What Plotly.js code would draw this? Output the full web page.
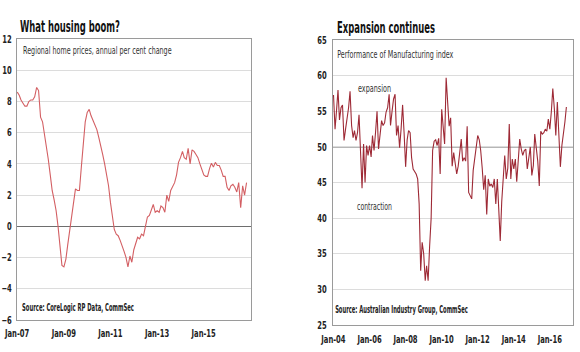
<!DOCTYPE html>
<html>
<head>
<meta charset="utf-8">
<script src="https://cdn.plot.ly/plotly-3.0.1.min.js"></script>
<style>html,body{margin:0;padding:0;background:#fff;}#chart{width:580px;height:352px;}</style>
</head>
<body>
<div id="chart"></div>
<script>
// Regional home prices, annual % change, monthly from Jan 2007
const housingStart = [2007, 1];
const housingValues = [
  // 2007
  8.6, 8.4, 8.1, 7.9, 7.7, 7.7, 8.0, 8.1, 8.1, 8.3, 8.9, 8.7,
  // 2008
  7.0, 6.7, 6.0, 5.0, 4.3, 3.3, 2.3, 1.7, 1.0, 0.0, -1.5, -2.5,
  // 2009
  -2.6, -2.1, -1.2, -0.3, 0.8, 1.7, 2.4, 2.3, 2.3, 3.8, 5.6, 6.7,
  // 2010
  7.3, 7.5, 7.1, 6.8, 6.6, 6.2, 5.7, 5.2, 4.6, 4.0, 3.3, 2.6,
  // 2011
  1.5, 0.5, -0.2, -0.5, -0.6, -0.9, -1.2, -1.6, -2.0, -2.6, -1.9, -2.3,
  // 2012
  -1.5, -1.0, -0.7, -0.8, -0.5, -0.6, -0.1, 0.6, 0.7, 1.0, 1.4, 0.9,
  // 2013
  1.0, 0.9, 1.3, 1.2, 0.9, 2.0, 1.6, 2.3, 2.6, 2.8, 3.3, 4.1,
  // 2014
  4.4, 4.8, 4.4, 4.3, 5.0, 4.0, 4.9, 4.8, 4.6, 4.4, 4.0, 3.6,
  // 2015
  3.3, 3.2, 3.2, 3.7, 4.05, 3.8, 4.1, 3.9, 3.9, 3.6, 3.2, 3.2,
  // 2016
  2.5, 2.3, 2.6, 2.7, 2.5, 2.2, 2.8, 1.2, 2.6, 2.0, 2.8
];
const housingTickVals = ['2007-01-01', '2009-01-01', '2011-01-01', '2013-01-01', '2015-01-01'];
const housingTickText = ['Jan-07', 'Jan-09', 'Jan-11', 'Jan-13', 'Jan-15'];

// Performance of Manufacturing index, monthly from Jan 2004
const pmiStart = [2004, 1];
const pmiValues = [
  // 2004
  57.3, 52.5, 55.0, 58.0, 53.8, 55.5, 55.9, 50.9, 52.5, 53.7, 55.5, 57.8,
  // 2005
  53.0, 51.3, 52.3, 50.9, 52.0, 54.5, 48.7, 44.2, 50.4, 45.0, 50.2, 48.8,
  // 2006
  50.2, 48.6, 51.6, 49.5, 52.0, 55.0, 49.7, 52.0, 53.7, 53.0, 53.4, 54.9,
  // 2007
  55.5, 57.4, 53.0, 55.0, 56.7, 57.4, 51.6, 53.0, 49.9, 52.5, 55.9, 52.0,
  // 2008
  47.2, 51.0, 52.3, 52.0, 48.5, 46.9, 46.5, 46.2, 45.5, 42.0, 32.6, 36.6,
  // 2009
  35.0, 31.2, 33.3, 31.2, 36.0, 40.0, 49.5, 50.8, 51.0, 50.2, 51.2, 46.2,
  // 2010
  55.3, 53.0, 50.4, 59.7, 55.5, 52.9, 54.1, 47.3, 49.2, 48.0, 46.2, 47.3,
  // 2011
  49.0, 51.1, 48.0, 48.5, 48.0, 52.9, 43.6, 43.0, 42.7, 46.7, 48.5, 49.7,
  // 2012
  51.6, 51.0, 49.5, 47.0, 44.0, 46.0, 40.5, 45.5, 44.5, 44.8, 44.3, 45.5,
  // 2013
  42.0, 45.5, 40.0, 36.8, 42.3, 45.5, 48.8, 45.5, 47.0, 53.2, 45.5, 48.3,
  // 2014
  46.9, 48.3, 45.1, 48.1, 51.1, 49.7, 48.8, 49.5, 49.7, 46.9, 48.8, 50.0,
  // 2015
  46.0, 47.4, 51.8, 50.2, 48.0, 44.5, 52.2, 51.8, 52.0, 52.5, 52.2, 53.9,
  // 2016
  52.5, 55.0, 58.2, 55.4, 51.6, 56.3, 52.0, 47.2, 50.2, 51.5, 53.5, 55.6
];
const pmiTickVals = ['2004-01-01', '2006-01-01', '2008-01-01', '2010-01-01', '2012-01-01', '2014-01-01', '2016-01-01'];
const pmiTickText = ['Jan-04', 'Jan-06', 'Jan-08', 'Jan-10', 'Jan-12', 'Jan-14', 'Jan-16'];

function monthDates(start, n) {
  const out = [];
  let y = start[0], m = start[1];
  for (let i = 0; i < n; i++) {
    out.push(y + '-' + String(m).padStart(2, '0') + '-01');
    m++; if (m > 12) { m = 1; y++; }
  }
  return out;
}

const FONT = '"DejaVu Sans Condensed", "Liberation Sans", Arial, sans-serif';
const tickFont = {family: FONT, size: 10.5, color: '#222', weight: 'bold'};

const traces = [
  {
    x: monthDates(housingStart, housingValues.length), y: housingValues,
    xaxis: 'x', yaxis: 'y', type: 'scatter', mode: 'lines',
    line: {color: '#d35f63', width: 1.1}, hoverinfo: 'skip'
  },
  {
    x: monthDates(pmiStart, pmiValues.length), y: pmiValues,
    xaxis: 'x2', yaxis: 'y2', type: 'scatter', mode: 'lines',
    line: {color: '#9e2a36', width: 1.1}, hoverinfo: 'skip'
  }
];

const axisCommon = {
  showline: true, mirror: true, linecolor: '#9a9a9a', linewidth: 1.2,
  ticks: '', tickfont: tickFont, fixedrange: true, ticklabeloverflow: 'allow'
};

// horizontal squeeze factors (the reference uses a narrow typeface)
const TICK_SQUEEZE = 0.72;
// target widths (px) for the annotation texts, same order as annotations
const annWidths = [100, 98, 149, 112, 117, 33, 35, 133];

const layout = {
  width: 580, height: 352,
  margin: {l: 0, r: 0, t: 0, b: 0},
  paper_bgcolor: '#fff', plot_bgcolor: '#fff',
  showlegend: false,
  font: {family: FONT},
  xaxis: Object.assign({}, axisCommon, {
    domain: [0.0293, 0.4328], anchor: 'y', type: 'date',
    range: ['2006-12-28', '2017-01-10'],
    tickvals: housingTickVals, ticktext: housingTickText, tickangle: 0,
    showgrid: false, zeroline: false, ticklabelstandoff: 3
  }),
  yaxis: Object.assign({}, axisCommon, {
    domain: [0.091, 0.889], anchor: 'x',
    range: [-6, 12], dtick: 2, tick0: 0,
    showgrid: true, gridcolor: '#dcdcdc', gridwidth: 1,
    zeroline: true, zerolinecolor: '#6e6e6e', zerolinewidth: 1.4,
    ticklabelstandoff: 2
  }),
  xaxis2: Object.assign({}, axisCommon, {
    domain: [0.574, 0.988], anchor: 'y2', type: 'date',
    range: ['2003-12-20', '2017-04-15'],
    tickvals: pmiTickVals, ticktext: pmiTickText, tickangle: 0,
    showgrid: false, zeroline: false, ticklabelstandoff: 4
  }),
  yaxis2: Object.assign({}, axisCommon, {
    domain: [0.077, 0.886], anchor: 'x2',
    range: [25, 65], dtick: 5, tick0: 25,
    showgrid: true, gridcolor: '#dcdcdc', gridwidth: 1,
    zeroline: false, ticklabelstandoff: 3
  }),
  shapes: [
    {type: 'line', xref: 'x2 domain', yref: 'y2', x0: 0, x1: 1, y0: 50, y1: 50,
     line: {color: '#6e6e6e', width: 1.4}, layer: 'below'}
  ],
  annotations: [
    {text: 'What housing boom?', xref: 'paper', yref: 'paper', x: 18/580, y: 1 - 27/352,
     xanchor: 'left', yanchor: 'middle', showarrow: false,
     font: {family: FONT, size: 15, color: '#111', weight: 'bold'}},
    {text: 'Expansion continues', xref: 'paper', yref: 'paper', x: 335/580, y: 1 - 28/352,
     xanchor: 'left', yanchor: 'middle', showarrow: false,
     font: {family: FONT, size: 15, color: '#111', weight: 'bold'}},
    {text: 'Regional home prices, annual per cent change', xref: 'paper', yref: 'paper',
     x: 21/580, y: 1 - 50/352, xanchor: 'left', yanchor: 'middle', showarrow: false,
     font: {family: FONT, size: 10, color: '#333'}},
    {text: 'Source: CoreLogic RP Data, CommSec', xref: 'paper', yref: 'paper',
     x: 20/580, y: 1 - 307/352, xanchor: 'left', yanchor: 'middle', showarrow: false,
     font: {family: FONT, size: 10, color: '#222', weight: 'bold'}},
    {text: 'Performance of Manufacturing index', xref: 'paper', yref: 'paper',
     x: 335/580, y: 1 - 54/352, xanchor: 'left', yanchor: 'middle', showarrow: false,
     font: {family: FONT, size: 10, color: '#333'}},
    {text: 'expansion', xref: 'paper', yref: 'paper',
     x: 356/580, y: 1 - 88/352, xanchor: 'left', yanchor: 'middle', showarrow: false,
     font: {family: FONT, size: 10, color: '#333'}},
    {text: 'contraction', xref: 'paper', yref: 'paper',
     x: 355/580, y: 1 - 207/352, xanchor: 'left', yanchor: 'middle', showarrow: false,
     font: {family: FONT, size: 10, color: '#333'}},
    {text: 'Source: Australian Industry Group, CommSec', xref: 'paper', yref: 'paper',
     x: 333/580, y: 1 - 309/352, xanchor: 'left', yanchor: 'middle', showarrow: false,
     font: {family: FONT, size: 10, color: '#222', weight: 'bold'}}
  ]
};

function squeeze(el, s, pivot) {
  const bb = el.getBBox();
  const p = pivot === 'left' ? bb.x : pivot === 'right' ? bb.x + bb.width : bb.x + bb.width / 2;
  const existing = el.getAttribute('transform') || '';
  el.setAttribute('transform', existing + ' translate(' + p + ',0) scale(' + s + ',1) translate(' + (-p) + ',0)');
}

Plotly.newPlot('chart', traces, layout, {staticPlot: true, displayModeBar: false}).then(function (gd) {
  gd.querySelectorAll('.xtick text, .x2tick text').forEach(function (t) { squeeze(t, TICK_SQUEEZE, 'center'); });
  gd.querySelectorAll('.ytick text, .y2tick text').forEach(function (t) { squeeze(t, TICK_SQUEEZE, 'right'); });
  gd.querySelectorAll('g.annotation').forEach(function (g) {
    const i = +g.getAttribute('data-index');
    const t = g.querySelector('text.annotation-text');
    if (!t || !annWidths[i]) return;
    const w = t.getBBox().width;
    if (w > 0) squeeze(t, annWidths[i] / w, 'left');
  });
});
</script>
</body>
</html>
